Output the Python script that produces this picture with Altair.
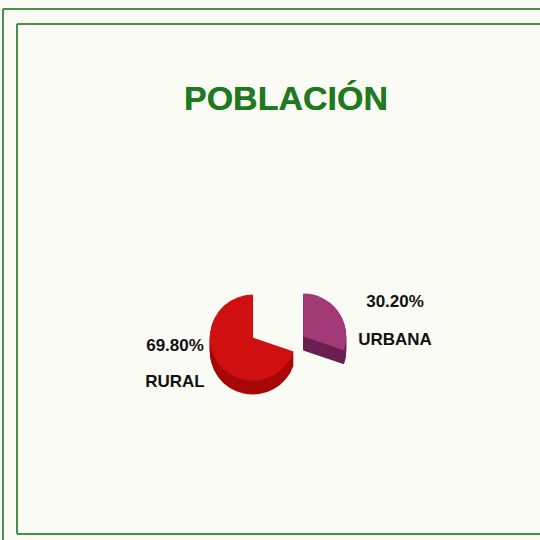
import altair as alt
import pandas as pd

# ---- data ----
categories = ["URBANA", "RURAL"]
values = [30.20, 69.80]
pct_labels = ["30.20%", "69.80%"]
order = [0, 1]

df = pd.DataFrame({"cat": categories, "value": values, "pct": pct_labels, "order": order})

TOP = {"URBANA": "#a33a78", "RURAL": "#d01010"}
SIDE = {"URBANA": "#6a2050", "RURAL": "#a80808"}

FONT = "Liberation Sans, Arial, sans-serif"
CX, CY, R = 278, 337, 43
EX, EY = 31, 1
DEPTH = 14

base = alt.Chart(df).transform_joinaggregate(
    total="sum(value)"
).transform_window(
    cum="sum(value)", sort=[alt.SortField("order")], frame=[None, 0]
).transform_calculate(
    t0="2*PI*(datum.cum - datum.value)/datum.total",
    t1="2*PI*datum.cum/datum.total",
).transform_calculate(
    mid="(datum.t0 + datum.t1)/2"
).transform_calculate(
    cx=f"{CX} + {EX}*sin(datum.mid)",
    cy=f"{CY} - {EY}*cos(datum.mid)",
)

def slice_layer(dy, colors):
    expr = "datum.cat == 'URBANA' ? '%s' : '%s'" % (colors["URBANA"], colors["RURAL"])
    return base.transform_calculate(yy=f"datum.cy + {dy}", col=expr).mark_arc(
        radius=R, stroke=None
    ).encode(
        theta=alt.Theta("t0:Q", scale=None),
        theta2="t1:Q",
        x=alt.X("cx:Q", scale=None, axis=None),
        y=alt.Y("yy:Q", scale=None, axis=None),
        color=alt.Color("col:N", scale=None, legend=None),
    )

layers = []
# frame
green = "#3a8a3a"
layers.append(alt.Chart(df).mark_rule(color=green, strokeWidth=1.5).encode(
    x=alt.value(3), y=alt.value(9), y2=alt.value(540)))
layers.append(alt.Chart(df).mark_rule(color=green, strokeWidth=1.5).encode(
    x=alt.value(3), x2=alt.value(540), y=alt.value(9)))
layers.append(alt.Chart(df).mark_rule(color=green, strokeWidth=1.5).encode(
    x=alt.value(17), y=alt.value(24), y2=alt.value(534)))
layers.append(alt.Chart(df).mark_rule(color=green, strokeWidth=1.5).encode(
    x=alt.value(17), x2=alt.value(540), y=alt.value(24)))
layers.append(alt.Chart(df).mark_rule(color=green, strokeWidth=1.5).encode(
    x=alt.value(17), x2=alt.value(540), y=alt.value(534)))

# title
layers.append(alt.Chart(df).mark_text(
    text="POBLACIÓN", font=FONT, fontSize=34, fontWeight="bold", color="#1f7a1f",
    align="center", baseline="alphabetic"
).encode(x=alt.value(286), y=alt.value(110)))

# pie sides (extrusion) then top
for d in range(DEPTH, 0, -1):
    layers.append(slice_layer(d, SIDE))
layers.append(slice_layer(0, TOP))

# labels
label_pos = {"URBANA": (395, 307, 345), "RURAL": (175, 351, 387)}
for cat, (lx, ly1, ly2) in label_pos.items():
    sub = alt.Chart(df).transform_filter(alt.datum.cat == cat)
    layers.append(sub.mark_text(font=FONT, fontSize=17, fontWeight="bold", color="#111111",
                                align="center", baseline="alphabetic").encode(
        text="pct:N", x=alt.value(lx), y=alt.value(ly1)))
    layers.append(sub.mark_text(font=FONT, fontSize=17, fontWeight="bold", color="#111111",
                                align="center", baseline="alphabetic").encode(
        text="cat:N", x=alt.value(lx), y=alt.value(ly2)))

chart = alt.layer(*layers).properties(
    width=540, height=540, padding=0, autosize="none", background="#fbfbf6"
).configure_view(stroke=None)

chart.save("out.html", embed_options={"renderer": "svg", "actions": False})
